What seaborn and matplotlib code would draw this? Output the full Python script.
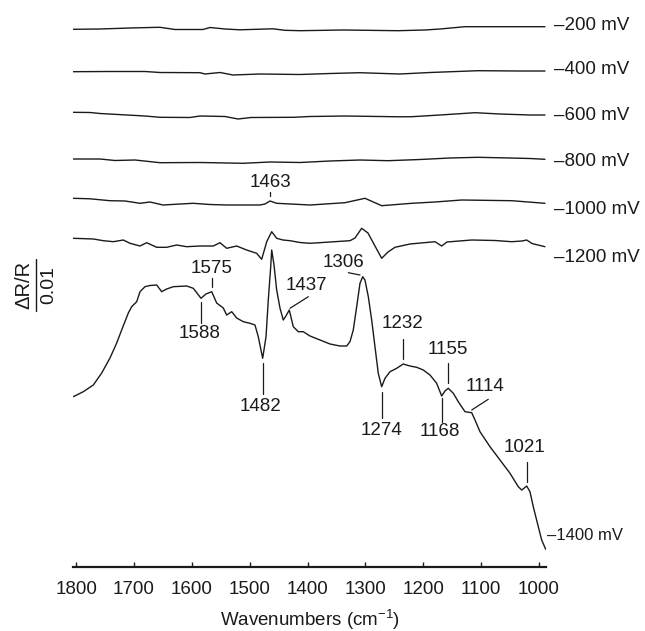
import numpy as np
import pandas as pd
import matplotlib
matplotlib.use("Agg")
import matplotlib.pyplot as plt
import seaborn as sns
from matplotlib.lines import Line2D

sns.set_theme(style="white")
plt.rcParams['font.family'] = ['Liberation Sans', 'DejaVu Sans']
plt.rcParams['mathtext.fontset'] = 'custom'
plt.rcParams['mathtext.rm'] = 'Liberation Sans'
plt.rcParams['mathtext.it'] = 'Liberation Sans'

# ---------------- data (ΔR/R in units of 1e-3, relative to each trace's start) -------------
potentials = ["–200 mV", "–400 mV", "–600 mV", "–800 mV", "–1000 mV", "–1200 mV", "–1400 mV"]
offsets = [107.54, 99.06, 90.94, 81.6, 73.74, 65.74, 34.0]

wn_200 = [1805, 1758.9, 1707.0, 1672.4, 1655.2, 1629.2, 1580.8, 1568.7, 1542.8, 1516.8,
          1459.9, 1439.2, 1413.2, 1338.9, 1243.9, 1197.3, 1171.2, 1128.0, 1067.5, 989.8]
dr_200 = [0, 0.06, 0.26, 0.36, 0.4, -0.04, -0.04, 0.36, 0.06, -0.1,
          0.1, -0.2, -0.28, -0.14, -0.28, -0.14, 0.06, 0.52, 0.52, 0.52]

wn_400 = [1805, 1741.6, 1681.1, 1655.2, 1586.0, 1577.4, 1551.5, 1529.0, 1482.3, 1413.2,
          1361.3, 1309.5, 1278.4, 1240.4, 1188.5, 1105.6, 1033.0, 989.8]
dr_400 = [0, 0.04, 0.04, -0.16, -0.2, -0.46, -0.16, -0.66, -0.46, -0.56,
          -0.36, -0.2, -0.32, -0.46, -0.16, 0.2, 0.14, 0.14]

wn_600 = [1805, 1776.1, 1758.9, 1712.2, 1681.1, 1655.2, 1603.3, 1586.0, 1542.8, 1520.3,
          1497.9, 1425.3, 1395.9, 1335.4, 1240.4, 1219.6, 1171.2, 1110.7, 1067.5, 1015.7, 989.8]
dr_600 = [0, -0.04, -0.24, -0.54, -0.74, -1.0, -1.04, -0.74, -0.84, -1.34,
          -1.04, -1.0, -0.84, -0.74, -0.9, -0.88, -0.54, -0.08, -0.34, -0.54, -0.54]

wn_800 = [1805, 1758.9, 1733.0, 1698.4, 1655.2, 1586.0, 1511.7, 1465.0, 1413.2, 1361.3,
          1309.5, 1261.1, 1205.8, 1153.9, 1105.6, 1050.2, 1015.7, 989.8]
dr_800 = [0, 0, -0.3, -0.2, -0.74, -0.7, -0.86, -0.6, -0.7, -0.4,
          -0.2, -0.34, -0.1, 0.2, 0.34, 0.2, 0.1, -0.06]

wn_1000 = [1805, 1776.1, 1741.6, 1715.6, 1689.7, 1672.4, 1650.0, 1598.1, 1568.7, 1539.4,
           1482.3, 1473.7, 1465.0, 1453.5, 1395.9, 1335.4, 1300.9, 1272.0, 1220.1, 1179.9,
           1133.7, 1047.3, 989.8]
dr_1000 = [0, -0.1, -0.48, -0.54, -1.0, -0.74, -1.34, -1.0, -1.24, -1.34,
           -1.34, -1.14, -0.54, -1.0, -1.34, -0.88, 0, -1.48, -1.0, -0.74,
           -0.34, -0.48, -1.0]

wn_1200 = [1805, 1770.4, 1753.1, 1735.8, 1718.6, 1707.0, 1689.7, 1678.2, 1660.9, 1643.6,
           1626.4, 1609.0, 1586.0, 1563.0, 1551.5, 1539.9, 1522.6, 1505.4, 1488.1, 1479.4,
           1470.7, 1462.1, 1453.5, 1442.6, 1430.5, 1413.2, 1395.9, 1361.3, 1326.8, 1318.1,
           1306.6, 1295.7, 1283.6, 1272.0, 1261.1, 1249.0, 1223.1, 1179.9, 1168.3, 1159.2,
           1116.4, 1076.2, 1047.3, 1029.5, 1021.4, 1012.2, 989.8]
dr_1200 = [0, -0.14, -0.48, -0.68, -0.34, -1.0, -1.54, -0.88, -1.8, -1.8,
           -1.34, -1.68, -1.54, -1.54, -0.88, -2.0, -1.54, -2.34, -3.0, -4.2,
           -0.68, 1.32, 0, -0.34, -0.48, -0.84, -1.0, -0.74, -0.48, 0.06,
           2.0, 1.06, -1.54, -4.0, -2.74, -1.8, -1.14, -0.68, -1.54, -0.74,
           -0.34, -0.44, -0.68, -0.54, -0.34, -1.04, -1.68]

wn_1400 = [1805, 1787.7, 1770.4, 1755.9, 1741.6, 1730.0, 1721.4, 1709.9, 1704.1, 1695.4,
           1689.7, 1681.1, 1672.4, 1660.9, 1652.2, 1643.6, 1632.2, 1609.0, 1597.6, 1584.3,
           1575.7, 1565.8, 1557.2, 1545.8, 1539.9, 1531.2, 1522.6, 1511.2, 1499.6, 1491.0,
           1485.3, 1477.7, 1471.9, 1468.0, 1463.8, 1462.1, 1458.1, 1453.5, 1447.8, 1442.1,
           1437.5, 1431.7, 1424.8, 1416.1, 1407.5, 1395.9, 1378.6, 1361.3, 1344.1, 1332.5,
           1326.8, 1321.1, 1315.2, 1309.5, 1304.8, 1300.9, 1295.1, 1289.3, 1283.6, 1277.9,
           1272.0, 1266.3, 1257.6, 1246.1, 1234.7, 1223.1, 1211.5, 1200.1, 1188.5, 1177.0,
           1168.3, 1162.6, 1156.9, 1148.2, 1139.6, 1128.0, 1116.4, 1110.7, 1102.1, 1084.8,
           1067.5, 1050.2, 1035.9, 1030.0, 1026.1, 1021.4, 1015.7, 1010.0, 1001.3, 995.5, 988.5]
dr_1400 = [0.06, 1.06, 2.4, 4.8, 7.8, 10.8, 13.4, 16.8, 18.06, 19.06,
           21.06, 22.06, 22.3, 22.4, 21.06, 21.6, 22.06, 22.2, 21.74, 19.74,
           20.6, 21.06, 18.8, 17.8, 16.4, 17.06, 15.8, 15.06, 14.74, 14.4,
           12.06, 7.74, 12.06, 19.4, 26.06, 29.4, 26.4, 21.4, 17.8, 15.4,
           16.2, 17.4, 14.06, 13.06, 13.06, 12.2, 11.4, 10.6, 10.2, 10.2,
           11.06, 13.4, 18.06, 22.74, 24.06, 23.4, 20.06, 15.4, 10.06, 4.74,
           2.06, 3.74, 5.06, 5.74, 6.6, 6.2, 5.94, 5.4, 4.4, 2.74,
           0.2, 1.2, 1.74, 0.74, -0.94, -2.94, -3.14, -4.6, -6.94, -9.94,
           -12.6, -15.26, -17.94, -18.6, -18.26, -17.8, -18.94, -21.94, -25.94, -28.6, -30.46]

wavenumbers = [wn_200, wn_400, wn_600, wn_800, wn_1000, wn_1200, wn_1400]
spectra = [dr_200, dr_400, dr_600, dr_800, dr_1000, dr_1200, dr_1400]

# peak labels: text, text position, connector line
peak_labels = ["1463", "1575", "1588", "1482", "1437", "1306", "1232", "1274", "1155", "1168", "1114", "1021"]
peak_text_pos = [(1465.0, 76.86), (1565.8, 59.74), (1586.0, 46.6), (1480.6, 32.1), (1401.6, 56.2),
                 (1338.4, 60.86), (1235.7, 48.74), (1272.0, 27.26), (1156.9, 43.54), (1171.2, 27.06),
                 (1093.4, 36.06), (1024.3, 23.94)]
peak_line = [((1465.0, 75.06), (1465.0, 74.2)), ((1565.8, 57.74), (1565.8, 56.06)),
             ((1584.3, 53.06), (1584.3, 48.86)), ((1477.7, 40.74), (1477.7, 34.6)),
             ((1430.5, 51.74), (1398.8, 54.06)), ((1329.7, 58.86), (1309.5, 58.4)),
             ((1234.7, 45.6), (1234.7, 41.6)), ((1272.0, 35.06), (1272.0, 29.74)),
             ((1156.9, 40.74), (1156.9, 36.74)), ((1168.3, 33.74), (1168.3, 29.06)),
             ((1116.4, 31.4), (1087.8, 33.54)), ((1020.3, 21.06), (1020.3, 17.06))]

label_pos = [(974, 108.4), (974, 99.4), (974, 90.4), (974, 81.06), (974, 71.54), (974, 61.94), (986.5, 6.2)]
xticks = [1800, 1700, 1600, 1500, 1400, 1300, 1200, 1100, 1000]

# ---------------- figure -------------
W, H = 645, 631
fig = plt.figure(figsize=(W / 100, H / 100), dpi=100)
ax = fig.add_axes([73.3 / W, (H - 567) / H, (546 - 73.3) / W, 567 / H])
ink = '#1a1a1a'

frames = []
for name, wn, dr, off in zip(potentials, wavenumbers, spectra, offsets):
    frames.append(pd.DataFrame({"wn": wn, "y": np.array(dr) + off, "trace": name}))
df = pd.concat(frames, ignore_index=True)

for name in potentials:
    sub = df[df.trace == name]
    sns.lineplot(data=sub, x="wn", y="y", ax=ax, color=ink, lw=1.0,
                 sort=False, estimator=None, legend=False)

ax.set_xlim(1805, 988)
ax.set_ylim(0, 113.4)

for txt, (tx, ty), (p0, p1) in zip(peak_labels, peak_text_pos, peak_line):
    ax.text(tx, ty, txt, ha='center', va='center', fontsize=13.5, color=ink)
    ax.plot([p0[0], p1[0]], [p0[1], p1[1]], color=ink, lw=0.9)

for i, (name, (lx, ly)) in enumerate(zip(potentials, label_pos)):
    ax.text(lx, ly, name, ha='left', va='center', fontsize=13.5 if i < 6 else 12,
            color=ink, clip_on=False)

for s in ['top', 'right', 'left']:
    ax.spines[s].set_visible(False)
ax.spines['bottom'].set_linewidth(1.6)
ax.spines['bottom'].set_color(ink)
ax.set_xticks(xticks)
ax.set_xticklabels([str(t) for t in xticks])
ax.set_yticks([])
ax.tick_params(axis='x', direction='in', length=3.5, width=1.0, color=ink,
               labelsize=13.5, labelcolor=ink, pad=10, bottom=True)
ax.set_xlabel("Wavenumbers (cm$^{-1}$)", fontsize=13.5, color=ink, labelpad=7)
ax.set_ylabel("")

# y-label as a fraction
fig.text(24 / W, 1 - 284.5 / H, "ΔR/R", rotation=90, ha='center', va='center', fontsize=14.5, color=ink)
fig.text(48.5 / W, 1 - 285 / H, "0.01", rotation=90, ha='center', va='center', fontsize=14, color=ink)
fig.add_artist(Line2D([36 / W, 36 / W], [1 - 259 / H, 1 - 311 / H], color=ink, lw=1.0,
                      transform=fig.transFigure))

fig.savefig("out.png", dpi=100)
